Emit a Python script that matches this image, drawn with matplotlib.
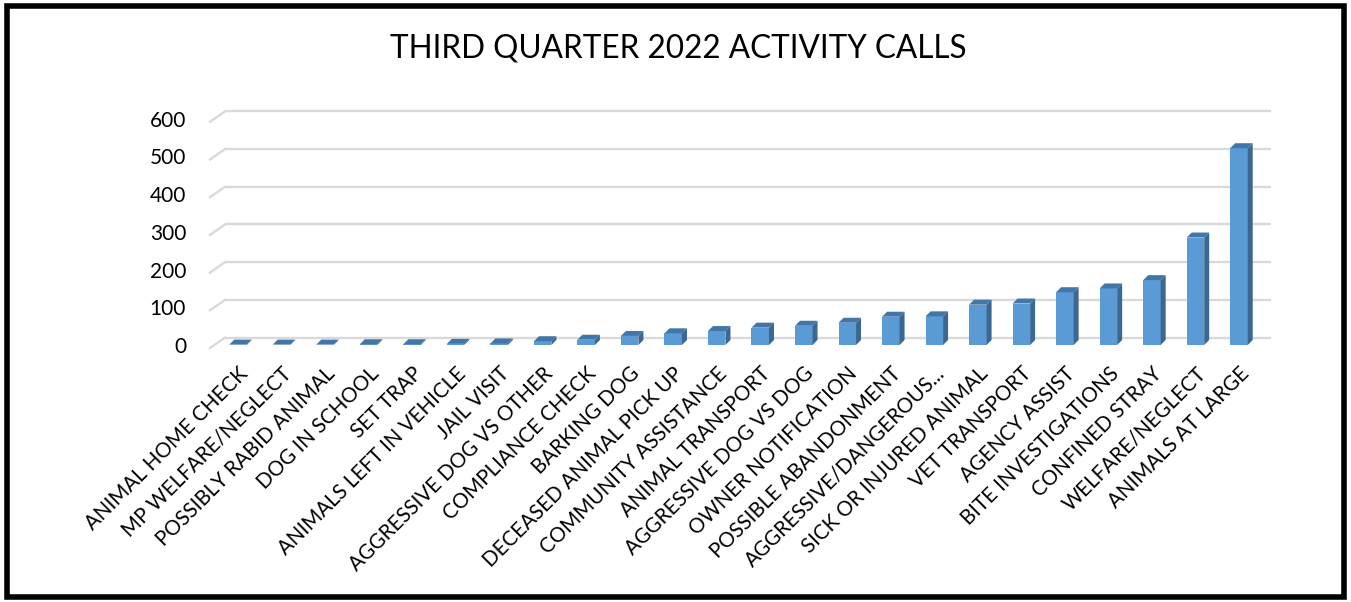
import matplotlib
matplotlib.use("Agg")
import matplotlib.pyplot as plt
from matplotlib.patches import Polygon, Rectangle

# ~~~~~~~~~~~~~~~ data ~~~~~~~~~~~~~~~
categories = [
    "ANIMAL HOME CHECK", "MP WELFARE/NEGLECT", "POSSIBLY RABID ANIMAL",
    "DOG IN SCHOOL", "SET TRAP", "ANIMALS LEFT IN VEHICLE", "JAIL VISIT",
    "AGGRESSIVE DOG VS OTHER", "COMPLIANCE CHECK", "BARKING DOG",
    "DECEASED ANIMAL PICK UP", "COMMUNITY ASSISTANCE", "ANIMAL TRANSPORT",
    "AGGRESSIVE DOG VS DOG", "OWNER NOTIFICATION", "POSSIBLE ABANDONMENT",
    "AGGRESSIVE/DANGEROUS...", "SICK OR INJURED ANIMAL", "VET TRANSPORT",
    "AGENCY ASSIST", "BITE INVESTIGATIONS", "CONFINED STRAY",
    "WELFARE/NEGLECT", "ANIMALS AT LARGE",
]
calls = [1, 1, 1, 2, 2, 3, 4, 10, 14, 24, 31, 37, 46, 51, 59, 75, 76,
         107, 110, 140, 150, 172, 285, 522]
y_ticks = [0, 100, 200, 300, 400, 500, 600]
title = "THIRD QUARTER 2022 ACTIVITY CALLS"

plt.rcParams["font.family"] = ["Lato", "DejaVu Sans"]

W, H = 1351, 602
fig = plt.figure(figsize=(W / 100, H / 100), dpi=100)

# axes box in pixels
left_px, right_px, top_px, bot_px = 200, 1280, 100, 355
ax = fig.add_axes([left_px / W, 1 - bot_px / H,
                   (right_px - left_px) / W, (bot_px - top_px) / H])

px_x = 43.52   # pixels per category
px_y = 0.377   # pixels per call
x0_px, base_px = 238, 345
ax.set_xlim((left_px - x0_px) / px_x, (right_px - x0_px) / px_x)
ax.set_ylim((base_px - bot_px) / px_y, (base_px - top_px) / px_y)

# 3D look: depth of the bars and of the floor/back wall
bar_w = 17.5 / px_x
bdx, bdy = 5 / px_x, 5 / px_y
wall_dy = 7.4 / px_y
wall_x0, wall_x1 = (225 - x0_px) / px_x, (1271 - x0_px) / px_x
stub_x, stub_dy = (210 - x0_px) / px_x, -3 / px_y

grid_c = "#d9d9d9"
for v in y_ticks:
    ax.plot([wall_x0, wall_x1], [v + wall_dy, v + wall_dy], color=grid_c,
            lw=1.7, zorder=1, solid_capstyle="butt")
    ax.plot([stub_x, wall_x0], [v + stub_dy, v + wall_dy], color=grid_c,
            lw=1.7, zorder=1)

front_c, side_c, top_c = "#5b9bd5", "#3b6791", "#4376a8"
xs = list(range(len(categories)))
ax.bar(xs, calls, width=bar_w, color=front_c, zorder=3)
for x, v in zip(xs, calls):
    r = x + bar_w / 2
    l = x - bar_w / 2
    ax.add_patch(Polygon([(r, 0), (r + bdx, bdy), (r + bdx, v + bdy), (r, v)],
                         closed=True, color=side_c, zorder=3, lw=0))
    ax.add_patch(Polygon([(l, v), (r, v), (r + bdx, v + bdy), (l + bdx, v + bdy)],
                         closed=True, color=top_c, zorder=3, lw=0))

ax.set_yticks(y_ticks)
ax.set_yticklabels([str(v) for v in y_ticks], fontsize=15)
ax.set_xticks(xs)
ax.set_xticklabels(categories, rotation=45, ha="right", va="top",
                   rotation_mode="anchor", fontsize=14.8)
ax.tick_params(axis="both", length=0)
ax.tick_params(axis="y", pad=10)
ax.tick_params(axis="x", pad=6)
for s in ax.spines.values():
    s.set_visible(False)

fig.text(678 / W, 1 - 48 / H, title, ha="center", va="center", fontsize=22.7)

# black border around the whole chart
fig.patches.append(Rectangle((7 / W, 5 / H), (W - 14) / W, (H - 11) / H,
                             transform=fig.transFigure, fill=False,
                             edgecolor="black", lw=4))

fig.savefig("out.png", dpi=100)
